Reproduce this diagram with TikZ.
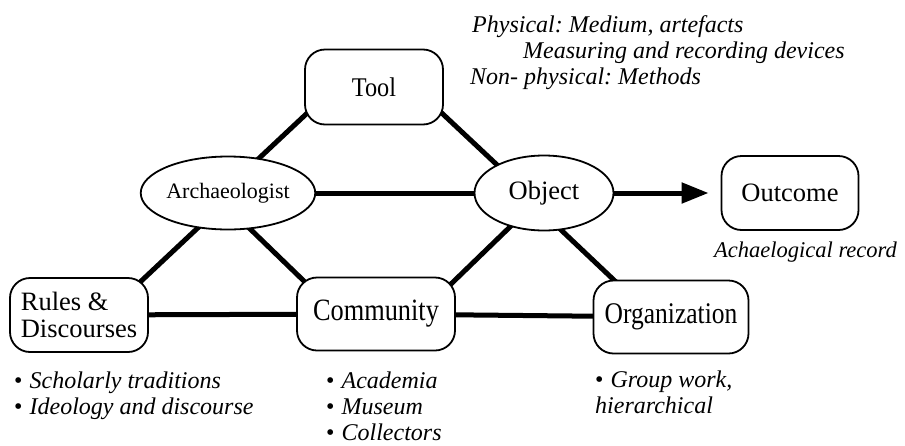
\documentclass[tikz,border=0pt]{standalone}
\usepackage{fontspec}
\setmainfont{Liberation Serif}
\newfontfamily\narrowserif[FakeStretch=0.85]{Liberation Serif}
\newfontfamily\slimserif[FakeStretch=0.9]{Liberation Serif}
\usetikzlibrary{shapes.geometric,arrows.meta,backgrounds}
\frenchspacing
\newcommand{\itembullet}{{\upshape\textbullet}\hspace{7pt}}
\begin{document}
\begin{tikzpicture}[x=1pt,y=-1pt,
  box/.style={draw,fill=white,line width=1.8pt,rounded corners=20pt,inner sep=0pt,
    font=\fontsize{26.5}{28}\selectfont},
  oval/.style={draw,fill=white,ellipse,line width=1.8pt,inner sep=0pt},
  link/.style={line width=5pt},
  note/.style={inner sep=0pt,font=\fontsize{24}{26}\selectfont\itshape,align=left}]
\useasboundingbox (0,0) rectangle (905,445);

% activity system nodes
\node[box,minimum width=138pt,minimum height=75pt,font=\slimserif\fontsize{27}{28}\selectfont] (tool) at (374,87) {Tool};
\node[oval,minimum width=132pt,minimum height=73pt,font=\fontsize{22}{24}\selectfont] (arch) at (228,193) {Archaeologist};
\node[oval,minimum width=139pt,minimum height=75pt,font=\fontsize{26.5}{28}\selectfont] (obj) at (544,193) {Object};
\node[box,minimum width=137pt,minimum height=74pt] (out) at (790,193) {Outcome};
\node[box,minimum width=138pt,minimum height=74pt,align=left,
  font=\fontsize{26.5}{27}\selectfont] (rules) at (79,315) {Rules \&\\Discourses};
\node[box,minimum width=158pt,minimum height=73pt,font=\narrowserif\fontsize{31}{32}\selectfont] (comm) at (376,314) {Community};
\node[box,minimum width=155pt,minimum height=73pt,font=\narrowserif\fontsize{30}{32}\selectfont] (org) at (671,317) {Organization};

% connectors, kept behind the white-filled nodes
\begin{scope}[on background layer]
\draw[link] ([xshift=-39pt]tool.center) -- ([xshift=-6pt]arch.center);
\draw[link] ([xshift=40pt]tool.center) -- ([xshift=-17pt]obj.center);
\draw[link] (arch.center) -- (obj.center);
\draw[link] ([xshift=7pt]arch.center) -- ([xshift=26pt]rules.center);
\draw[link] ([xshift=-15pt]arch.center) -- ([xshift=-38pt]comm.center);
\draw[link] ([xshift=1pt]obj.center) -- ([xshift=44pt]comm.center);
\draw[link] ([xshift=-22pt]obj.center) -- ([xshift=-18pt]org.center);
\draw[link] (rules.center) -- (comm.center);
\draw[link] (comm.center) -- (org.center);
\end{scope}
\draw[link,-{Triangle[length=27pt,width=20pt]},shorten >=12pt] (obj) -- (out);

% annotations
\node[note,anchor=base west] (phys) at (472,32) {Physical: Medium, artefacts};
\node[note,anchor=base west] (meas) at (523,58) {Measuring and recording devices};
\node[note,anchor=base west] (nonp) at (470,84) {Non- physical: Methods};
\node[note,anchor=base west,font=\fontsize{22.5}{24}\selectfont\itshape] (rec) at (714,257) {Achaelogical record};

\node[note,anchor=base west] (r1) at (14,388) {\itembullet Scholarly traditions};
\node[note,anchor=base west] (r2) at (14,414) {\itembullet Ideology and discourse};

\node[note,anchor=base west] (c1) at (326,388) {\itembullet Academia};
\node[note,anchor=base west] (c2) at (326,414) {\itembullet Museum};
\node[note,anchor=base west] (c3) at (326,440) {\itembullet Collectors};

\node[note,anchor=base west] (o1) at (595,387) {\itembullet Group work,};
\node[note,anchor=base west] (o2) at (595,413) {hierarchical};
\end{tikzpicture}
\end{document}
